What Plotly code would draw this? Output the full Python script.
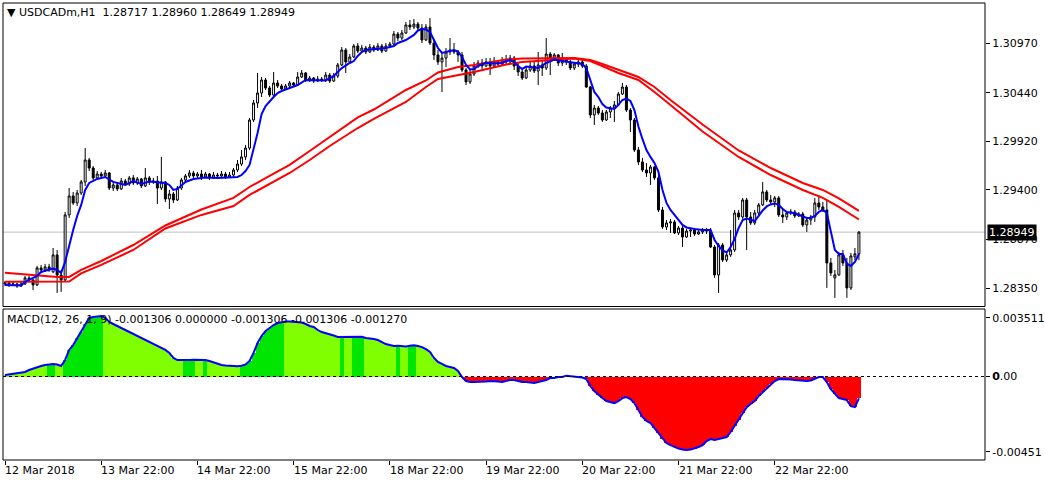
import plotly.graph_objects as go

# ---------------- data ----------------
opens = [1.28394,1.28405,1.28384,1.28394,1.28373,1.28394,1.28459,1.28437,1.28384,1.28566,
1.28544,1.28577,1.28523,1.28705,1.28491,1.28437,1.29133,1.29336,1.29261,1.29368,
1.29486,1.29721,1.29635,1.29529,1.29571,1.29550,1.29582,1.29421,1.29454,1.29411,
1.29496,1.29465,1.29529,1.29475,1.29518,1.29443,1.29529,1.29486,1.29496,1.29421,
1.29486,1.29304,1.29357,1.29293,1.29421,1.29507,1.29550,1.29582,1.29550,1.29571,
1.29539,1.29571,1.29529,1.29560,1.29550,1.29571,1.29539,1.29560,1.29614,1.29678,
1.29754,1.29849,1.30149,1.30331,1.30438,1.30577,1.30491,1.30416,1.30545,1.30513,
1.30481,1.30513,1.30545,1.30523,1.30609,1.30652,1.30577,1.30598,1.30566,1.30588,
1.30577,1.30630,1.30566,1.30620,1.30738,1.30898,1.30770,1.30823,1.30941,1.30887,
1.30919,1.30877,1.30930,1.30898,1.30941,1.30887,1.30941,1.30962,1.31069,1.31026,
1.31080,1.31166,1.31144,1.31176,1.31133,1.31005,1.31144,1.30973,1.30845,1.30770,
1.30812,1.30877,1.30898,1.30877,1.30845,1.30684,1.30556,1.30641,1.30727,1.30759,
1.30727,1.30770,1.30727,1.30770,1.30748,1.30791,1.30770,1.30812,1.30727,1.30663,
1.30598,1.30684,1.30727,1.30673,1.30738,1.30705,1.30855,1.30812,1.30845,1.30759,
1.30791,1.30770,1.30705,1.30748,1.30770,1.30727,1.30502,1.30203,1.30277,1.30224,
1.30149,1.30235,1.30277,1.30310,1.30427,1.30502,1.30256,1.30149,1.29828,1.29700,
1.29614,1.29582,1.29646,1.29529,1.29186,1.29004,1.29047,1.29058,1.28940,1.28993,
1.28897,1.28961,1.28972,1.28929,1.28951,1.28972,1.28961,1.28790,1.28491,1.28811,
1.28651,1.28705,1.28758,1.29154,1.29111,1.29293,1.29111,1.29047,1.29154,1.29240,
1.29379,1.29293,1.29272,1.29315,1.29133,1.29111,1.29154,1.29165,1.29122,1.29143,
1.29026,1.29079,1.29111,1.29261,1.29218,1.29186,1.28619,1.28459,1.28491,1.28705,
1.28619,1.28352,1.28684,1.28717]
highs = [1.28426,1.28416,1.28416,1.28405,1.28416,1.28480,1.28480,1.28448,1.28587,1.28598,
1.28609,1.28609,1.28779,1.28758,1.28544,1.29165,1.29421,1.29379,1.29400,1.29507,
1.29849,1.29743,1.29657,1.29603,1.29593,1.29614,1.29593,1.29486,1.29475,1.29529,
1.29518,1.29550,1.29560,1.29539,1.29529,1.29635,1.29550,1.29529,1.29550,1.29754,
1.29496,1.29400,1.29379,1.29443,1.29529,1.29571,1.29614,1.29603,1.29593,1.29614,
1.29593,1.29582,1.29593,1.29582,1.29603,1.29593,1.29593,1.29635,1.29721,1.29828,
1.29882,1.30170,1.30363,1.30652,1.30609,1.30598,1.30513,1.30663,1.30577,1.30534,
1.30534,1.30566,1.30556,1.30663,1.30684,1.30663,1.30620,1.30609,1.30620,1.30609,
1.30663,1.30652,1.30652,1.30759,1.30930,1.30919,1.30855,1.30962,1.30973,1.30952,
1.30941,1.30962,1.30952,1.30973,1.30962,1.30973,1.30984,1.31101,1.31091,1.31112,
1.31198,1.31219,1.31230,1.31198,1.31176,1.31176,1.31240,1.31005,1.30898,1.30866,
1.30919,1.31026,1.30973,1.30898,1.30877,1.30705,1.30684,1.30770,1.30791,1.30802,
1.30812,1.30812,1.30823,1.30791,1.30823,1.30845,1.30845,1.30834,1.30759,1.30705,
1.30716,1.30770,1.30770,1.30877,1.30791,1.31026,1.30877,1.30866,1.30855,1.30866,
1.30823,1.30791,1.30770,1.30791,1.30791,1.30748,1.30513,1.30310,1.30299,1.30256,
1.30256,1.30299,1.30352,1.30449,1.30545,1.30523,1.30277,1.30170,1.29860,1.29743,
1.29689,1.29668,1.29657,1.29614,1.29218,1.29079,1.29090,1.29079,1.29015,1.29015,
1.28983,1.28993,1.28993,1.28972,1.28993,1.28993,1.28993,1.28811,1.28832,1.28832,
1.28737,1.28972,1.29186,1.29186,1.29315,1.29315,1.29165,1.29186,1.29261,1.29486,
1.29400,1.29347,1.29336,1.29336,1.29207,1.29176,1.29197,1.29186,1.29165,1.29165,
1.29111,1.29133,1.29315,1.29347,1.29272,1.29293,1.28673,1.28544,1.28737,1.28758,
1.28673,1.28726,1.28779,1.28960]
lows = [1.28373,1.28362,1.28373,1.28352,1.28362,1.28384,1.28416,1.28330,1.28373,1.28512,
1.28523,1.28523,1.28512,1.28298,1.28309,1.28416,1.29101,1.29240,1.29229,1.29347,
1.29443,1.29603,1.29507,1.29507,1.29518,1.29529,1.29400,1.29389,1.29389,1.29400,
1.29443,1.29443,1.29454,1.29454,1.29421,1.29432,1.29454,1.29465,1.29250,1.29400,
1.29272,1.29197,1.29261,1.29282,1.29400,1.29486,1.29529,1.29518,1.29529,1.29507,
1.29529,1.29507,1.29518,1.29529,1.29539,1.29518,1.29529,1.29529,1.29593,1.29657,
1.29721,1.29828,1.30128,1.30277,1.30395,1.30470,1.30395,1.30406,1.30491,1.30459,
1.30470,1.30491,1.30502,1.30513,1.30598,1.30556,1.30556,1.30545,1.30556,1.30556,
1.30556,1.30545,1.30556,1.30598,1.30727,1.30652,1.30759,1.30812,1.30866,1.30866,
1.30855,1.30866,1.30877,1.30887,1.30866,1.30877,1.30919,1.30952,1.30994,1.31005,
1.31069,1.31112,1.31123,1.31112,1.30973,1.30994,1.30952,1.30791,1.30738,1.30449,
1.30716,1.30845,1.30855,1.30770,1.30663,1.30523,1.30534,1.30620,1.30705,1.30695,
1.30716,1.30630,1.30716,1.30727,1.30738,1.30748,1.30759,1.30684,1.30620,1.30577,
1.30588,1.30663,1.30652,1.30523,1.30620,1.30684,1.30630,1.30791,1.30727,1.30727,
1.30738,1.30684,1.30684,1.30716,1.30705,1.30491,1.30170,1.30096,1.30203,1.30128,
1.30138,1.30170,1.30128,1.30299,1.30416,1.30235,1.30021,1.29807,1.29668,1.29593,
1.29539,1.29454,1.29507,1.29165,1.28983,1.28972,1.28940,1.28929,1.28918,1.28790,
1.28887,1.28897,1.28908,1.28918,1.28929,1.28929,1.28779,1.28459,1.28298,1.28630,
1.28630,1.28684,1.28737,1.29079,1.29090,1.28758,1.29026,1.29026,1.29133,1.29229,
1.29272,1.29240,1.29218,1.29111,1.29047,1.29079,1.29133,1.29101,1.29111,1.29004,
1.28951,1.29026,1.29058,1.29186,1.29165,1.28352,1.28480,1.28245,1.28480,1.28587,
1.28245,1.28330,1.28651,1.28649]
closes = [1.28405,1.28384,1.28394,1.28373,1.28394,1.28459,1.28437,1.28384,1.28566,1.28544,
1.28577,1.28544,1.28705,1.28491,1.28437,1.29133,1.29336,1.29261,1.29368,1.29486,
1.29721,1.29635,1.29529,1.29571,1.29550,1.29582,1.29421,1.29454,1.29411,1.29496,
1.29465,1.29529,1.29475,1.29518,1.29443,1.29529,1.29486,1.29496,1.29421,1.29486,
1.29304,1.29357,1.29293,1.29421,1.29507,1.29550,1.29582,1.29550,1.29571,1.29539,
1.29571,1.29529,1.29560,1.29550,1.29571,1.29539,1.29560,1.29614,1.29678,1.29754,
1.29849,1.30149,1.30331,1.30438,1.30577,1.30491,1.30416,1.30545,1.30513,1.30481,
1.30513,1.30545,1.30523,1.30609,1.30652,1.30577,1.30598,1.30566,1.30588,1.30577,
1.30630,1.30566,1.30620,1.30738,1.30898,1.30770,1.30823,1.30941,1.30887,1.30919,
1.30877,1.30930,1.30898,1.30941,1.30887,1.30941,1.30962,1.31069,1.31026,1.31080,
1.31166,1.31144,1.31176,1.31133,1.31005,1.31144,1.30973,1.30845,1.30770,1.30812,
1.30877,1.30898,1.30877,1.30845,1.30684,1.30556,1.30641,1.30727,1.30759,1.30727,
1.30770,1.30727,1.30770,1.30748,1.30791,1.30770,1.30812,1.30727,1.30663,1.30598,
1.30684,1.30727,1.30673,1.30738,1.30705,1.30855,1.30812,1.30845,1.30759,1.30791,
1.30770,1.30705,1.30748,1.30770,1.30727,1.30502,1.30203,1.30277,1.30224,1.30149,
1.30235,1.30277,1.30310,1.30427,1.30502,1.30256,1.30149,1.29828,1.29700,1.29614,
1.29582,1.29646,1.29529,1.29186,1.29004,1.29047,1.29058,1.28940,1.28993,1.28897,
1.28961,1.28972,1.28929,1.28951,1.28972,1.28961,1.28790,1.28491,1.28811,1.28651,
1.28705,1.28758,1.29154,1.29111,1.29293,1.29111,1.29047,1.29154,1.29240,1.29379,
1.29293,1.29272,1.29315,1.29133,1.29111,1.29154,1.29165,1.29122,1.29143,1.29026,
1.29079,1.29111,1.29261,1.29218,1.29186,1.28619,1.28512,1.28491,1.28705,1.28619,
1.28352,1.28694,1.28717,1.28949]

# blue moving average, read at selected bars
ma_fast_bars = [0,4,5,8,9,11,12,13,14,15,16,17,18,19,20,21,23,25,27,30,32,34,36,38,40,41,42,43,45,47,
50,53,56,58,59,60,61,62,63,64,65,67,68,69,71,73,75,78,80,82,84,86,87,88,89,90,92,95,97,98,
100,102,103,104,105,106,107,108,109,110,112,113,114,115,116,117,118,120,122,124,125,126,127,128,129,130,132,133,135,137,
139,141,142,144,145,146,147,148,149,150,151,152,153,154,155,156,157,158,159,160,161,162,163,164,165,166,167,168,169,170,
171,172,174,176,177,178,179,180,181,182,183,184,185,186,187,188,189,190,191,192,193,194,195,197,199,200,201,202,203,204,
205,206,207,208,209,210,211,212,213]
ma_fast_vals = [1.28384,1.28378,1.28416,1.28480,1.28523,1.28544,1.28560,1.28544,1.28512,1.28630,1.28811,1.28972,1.29122,1.29240,1.29400,1.29475,1.29518,1.29539,1.29486,1.29454,1.29496,1.29465,1.29491,1.29486,1.29475,1.29454,1.29400,1.29411,1.29486,1.29518,
1.29534,1.29529,1.29534,1.29539,1.29560,1.29603,1.29668,1.29828,1.30010,1.30213,1.30299,1.30395,1.30438,1.30459,1.30491,1.30523,1.30577,1.30577,1.30572,1.30620,1.30705,1.30759,1.30780,1.30834,1.30877,1.30898,1.30909,1.30919,1.30941,1.30973,
1.31005,1.31059,1.31107,1.31123,1.31117,1.31091,1.31005,1.30919,1.30866,1.30877,1.30898,1.30882,1.30823,1.30738,1.30689,1.30695,1.30727,1.30762,1.30754,1.30759,1.30780,1.30791,1.30770,1.30727,1.30695,1.30721,1.30711,1.30705,1.30759,1.30796,
1.30780,1.30770,1.30759,1.30748,1.30705,1.30577,1.30449,1.30395,1.30320,1.30283,1.30274,1.30267,1.30310,1.30363,1.30379,1.30352,1.30256,1.30079,1.29946,1.29828,1.29754,1.29689,1.29593,1.29400,1.29261,1.29186,1.29133,1.29079,1.29026,1.28999,
1.28990,1.28983,1.28972,1.28972,1.28865,1.28801,1.28753,1.28731,1.28790,1.28876,1.28993,1.29079,1.29095,1.29079,1.29068,1.29122,1.29181,1.29224,1.29245,1.29256,1.29240,1.29197,1.29165,1.29151,1.29122,1.29101,1.29101,1.29122,1.29165,1.29186,
1.29154,1.28940,1.28758,1.28715,1.28715,1.28609,1.28587,1.28630,1.28715]

# two red moving averages, read at selected bars
ma_slow_bars = [0,6,13,16,19,24,32,40,49,57,61,66,71,76,81,88,92,100,105,108,113,117,125,129,142,146,149,153,158,162,166,174,183,191,199,204,208,213]
ma_slow_upper = [1.28515,1.28496,1.28469,1.28469,1.28544,1.28640,1.28811,1.29020,1.29191,1.29315,1.29432,1.29550,1.29668,1.29817,1.29967,1.30176,1.30261,1.30470,1.30572,1.30657,1.30716,1.30738,1.30796,1.30807,1.30812,1.30791,1.30748,1.30684,1.30609,1.30502,1.30363,1.30101,1.29823,1.29635,1.29475,1.29400,1.29309,1.29176]
ma_slow_lower = [1.28419,1.28420,1.28421,1.28421,1.28507,1.28598,1.28758,1.28988,1.29133,1.29229,1.29347,1.29465,1.29582,1.29721,1.29871,1.30063,1.30160,1.30342,1.30502,1.30588,1.30630,1.30663,1.30743,1.30770,1.30807,1.30780,1.30727,1.30652,1.30577,1.30449,1.30310,1.30026,1.29753,1.29560,1.29400,1.29315,1.29218,1.29084]

macd = [0.00009,0.00012,0.00015,0.00018,0.00021,0.00027,0.00039,0.00048,0.00057,0.00063,
0.00069,0.00072,0.00075,0.00072,0.00063,0.00099,0.00159,0.00188,0.00230,0.00266,
0.00314,0.00350,0.00356,0.00360,0.00362,0.00351,0.00326,0.00314,0.00302,0.00290,
0.00278,0.00266,0.00254,0.00242,0.00230,0.00218,0.00206,0.00194,0.00182,0.00170,
0.00159,0.00141,0.00111,0.00098,0.00097,0.00098,0.00099,0.00100,0.00099,0.00098,
0.00099,0.00093,0.00084,0.00075,0.00069,0.00066,0.00063,0.00062,0.00061,0.00064,
0.00072,0.00093,0.00141,0.00200,0.00242,0.00272,0.00290,0.00308,0.00320,0.00326,
0.00329,0.00329,0.00326,0.00326,0.00323,0.00314,0.00302,0.00296,0.00278,0.00266,
0.00260,0.00254,0.00245,0.00236,0.00237,0.00236,0.00235,0.00236,0.00237,0.00238,
0.00230,0.00229,0.00224,0.00218,0.00206,0.00194,0.00188,0.00183,0.00184,0.00182,
0.00180,0.00184,0.00187,0.00182,0.00176,0.00164,0.00147,0.00111,0.00087,0.00075,
0.00063,0.00057,0.00051,0.00033,-0.00003,-0.00027,-0.00033,-0.00033,-0.00033,-0.00033,
-0.00030,-0.00027,-0.00027,-0.00030,-0.00033,-0.00027,-0.00021,-0.00021,-0.00027,-0.00033,
-0.00033,-0.00036,-0.00039,-0.00033,-0.00027,-0.00021,-0.00009,-0.00009,-0.00003,-0.00003,
0.00005,0.00003,-0.00001,-0.00003,-0.00006,-0.00015,-0.00057,-0.00087,-0.00111,-0.00129,
-0.00147,-0.00153,-0.00159,-0.00147,-0.00129,-0.00123,-0.00135,-0.00159,-0.00200,-0.00242,
-0.00266,-0.00278,-0.00308,-0.00338,-0.00374,-0.00398,-0.00410,-0.00422,-0.00431,-0.00437,
-0.00440,-0.00437,-0.00431,-0.00422,-0.00410,-0.00386,-0.00374,-0.00380,-0.00374,-0.00368,
-0.00362,-0.00332,-0.00296,-0.00260,-0.00218,-0.00183,-0.00164,-0.00147,-0.00117,-0.00093,
-0.00069,-0.00045,-0.00027,-0.00015,-0.00015,-0.00015,-0.00018,-0.00021,-0.00024,-0.00027,
-0.00027,-0.00024,-0.00015,-0.00003,-0.00003,-0.00033,-0.00075,-0.00105,-0.00129,-0.00135,
-0.00141,-0.00177,-0.00183,-0.001306]
macd_strong_ranges = [(11, 12), (15, 24), (45, 47), (50, 50), (59, 69), (84, 84), (87, 89), (98, 98), (101, 102)]

date_labels = ["12 Mar 2018", "13 Mar 22:00", "14 Mar 22:00", "15 Mar 22:00", "18 Mar 22:00",
               "19 Mar 22:00", "20 Mar 22:00", "21 Mar 22:00", "22 Mar 22:00"]
date_bars = [0, 24, 48, 72, 96, 120, 144, 168, 192]

price_ticks = [1.30970, 1.30440, 1.29920, 1.29400, 1.28870, 1.28350]
macd_ticks = [0.003511, 0.0, -0.00451]
macd_tick_text = ["0.003511", "<b>0</b>.00", "-0.00451"]
bid_price = 1.28949

symbol = "USDCADm,H1"
macd_header = "MACD(12, 26, 1, 9) -0.001306 0.000000 -0.001306 -0.001306 -0.001270"

# ---------------- figure ----------------
FONT = "DejaVu Sans"
n = len(closes)
idx = list(range(n))

dark = set()
for a, b in macd_strong_ranges:
    dark.update(range(a, b + 1))
macd_colors = []
for i, v in enumerate(macd):
    if v < 0:
        macd_colors.append("#ff0000")
    elif i in dark:
        macd_colors.append("#00e600")
    else:
        macd_colors.append("#80ff00")

fig = go.Figure()

fig.add_trace(go.Scatter(x=ma_slow_bars, y=ma_slow_upper, mode="lines",
                         line=dict(color="#ff0000", width=2), hoverinfo="skip"))
fig.add_trace(go.Scatter(x=ma_slow_bars, y=ma_slow_lower, mode="lines",
                         line=dict(color="#ff0000", width=2), hoverinfo="skip"))
fig.add_trace(go.Candlestick(
    x=idx, open=opens, high=highs, low=lows, close=closes,
    increasing=dict(line=dict(color="black", width=1), fillcolor="white"),
    decreasing=dict(line=dict(color="black", width=1), fillcolor="black"),
    whiskerwidth=0, hoverinfo="skip"))
fig.add_trace(go.Scatter(x=ma_fast_bars, y=ma_fast_vals, mode="lines",
                         line=dict(color="#0000ff", width=2), hoverinfo="skip"))

fig.add_trace(go.Bar(x=idx, y=macd, width=1.0, marker=dict(color=macd_colors, line=dict(width=0)),
                     xaxis="x2", yaxis="y2", hoverinfo="skip"))
fig.add_trace(go.Scatter(x=idx, y=macd, mode="lines", line=dict(color="#0000ff", width=2),
                         xaxis="x2", yaxis="y2", hoverinfo="skip"))

W, H = 1045, 484
ML, MR, MT, MB = 3, 60, 3, 24
plot_h = H - MT - MB
main_bottom = (H - MB - 306.5) / plot_h
macd_top = (H - MB - 309) / plot_h

xr = [-0.5, 244.45]
fig.update_layout(
    width=W, height=H, margin=dict(l=ML, r=MR, t=MT, b=MB, autoexpand=False),
    paper_bgcolor="white", plot_bgcolor="white", showlegend=False,
    bargap=0, font=dict(family=FONT, size=11, color="black"),
    xaxis=dict(domain=[0, 1], range=xr, anchor="y", showticklabels=False, showgrid=False,
               zeroline=False, showline=False, ticks="", rangeslider=dict(visible=False)),
    yaxis=dict(domain=[main_bottom, 1], range=[1.28153, 1.31401], side="right", anchor="x",
               tickvals=price_ticks, ticktext=[f"{v:.5f}" for v in price_ticks],
               ticks="outside", ticklen=4, tickcolor="black", showgrid=False, zeroline=False,
               showline=False, tickfont=dict(family=FONT, size=11, color="black")),
    xaxis2=dict(domain=[0, 1], range=xr, anchor="y2", matches="x", showticklabels=False,
                showgrid=False, zeroline=False, showline=False, ticks="outside", ticklen=4,
                tickcolor="black", tickvals=date_bars),
    yaxis2=dict(domain=[0, macd_top], range=[-0.004993, 0.004037], side="right", anchor="x2",
                tickvals=macd_ticks, ticktext=macd_tick_text, ticks="outside", ticklen=4,
                tickcolor="black", showgrid=False, zeroline=False, showline=False,
                tickfont=dict(family=FONT, size=11, color="black")),
)

shapes = [
    dict(type="line", xref="paper", yref="y", x0=0, x1=1, y0=bid_price, y1=bid_price,
         line=dict(color="#c0c0c0", width=1), layer="below"),
    dict(type="line", xref="paper", yref="y2", x0=0, x1=1, y0=0, y1=0,
         line=dict(color="black", width=1, dash="3px,3px")),
    dict(type="rect", xref="paper", yref="paper", x0=0, x1=1, y0=main_bottom, y1=1,
         line=dict(color="black", width=1)),
    dict(type="rect", xref="paper", yref="paper", x0=0, x1=1, y0=0, y1=macd_top,
         line=dict(color="black", width=1)),
]
fig.update_layout(shapes=shapes)

ann = []
header = (f"\u25BC {symbol}\u00a0\u00a0{opens[-1]:.5f} {highs[-1]:.5f} "
          f"{lows[-1]:.5f} {closes[-1]:.5f}")
ann.append(dict(xref="paper", yref="paper", x=0, y=1, xanchor="left", yanchor="top",
                text=header, showarrow=False, xshift=2, yshift=-1,
                font=dict(family=FONT, size=11, color="black")))
ann.append(dict(xref="paper", yref="paper", x=0, y=macd_top, xanchor="left", yanchor="top",
                text=macd_header, showarrow=False, xshift=2, yshift=-2,
                font=dict(family=FONT, size=11, color="black")))
ann.append(dict(xref="paper", yref="y", x=1, y=bid_price, xanchor="left", yanchor="middle",
                text=f"{closes[-1]:.5f}", showarrow=False, xshift=2, bgcolor="black",
                borderpad=1, font=dict(family=FONT, size=11, color="white")))
for lbl, b in zip(date_labels, date_bars):
    ann.append(dict(xref="x2", yref="paper", x=b, y=0, xanchor="left", yanchor="top",
                    text=lbl, showarrow=False, xshift=-2, yshift=-2,
                    font=dict(family=FONT, size=11, color="black")))
fig.update_layout(annotations=ann)

fig.write_html("out.html",
               config={"displayModeBar": False, "staticPlot": True},
               post_script="document.body.style.margin='0';document.body.style.overflow='hidden';")
